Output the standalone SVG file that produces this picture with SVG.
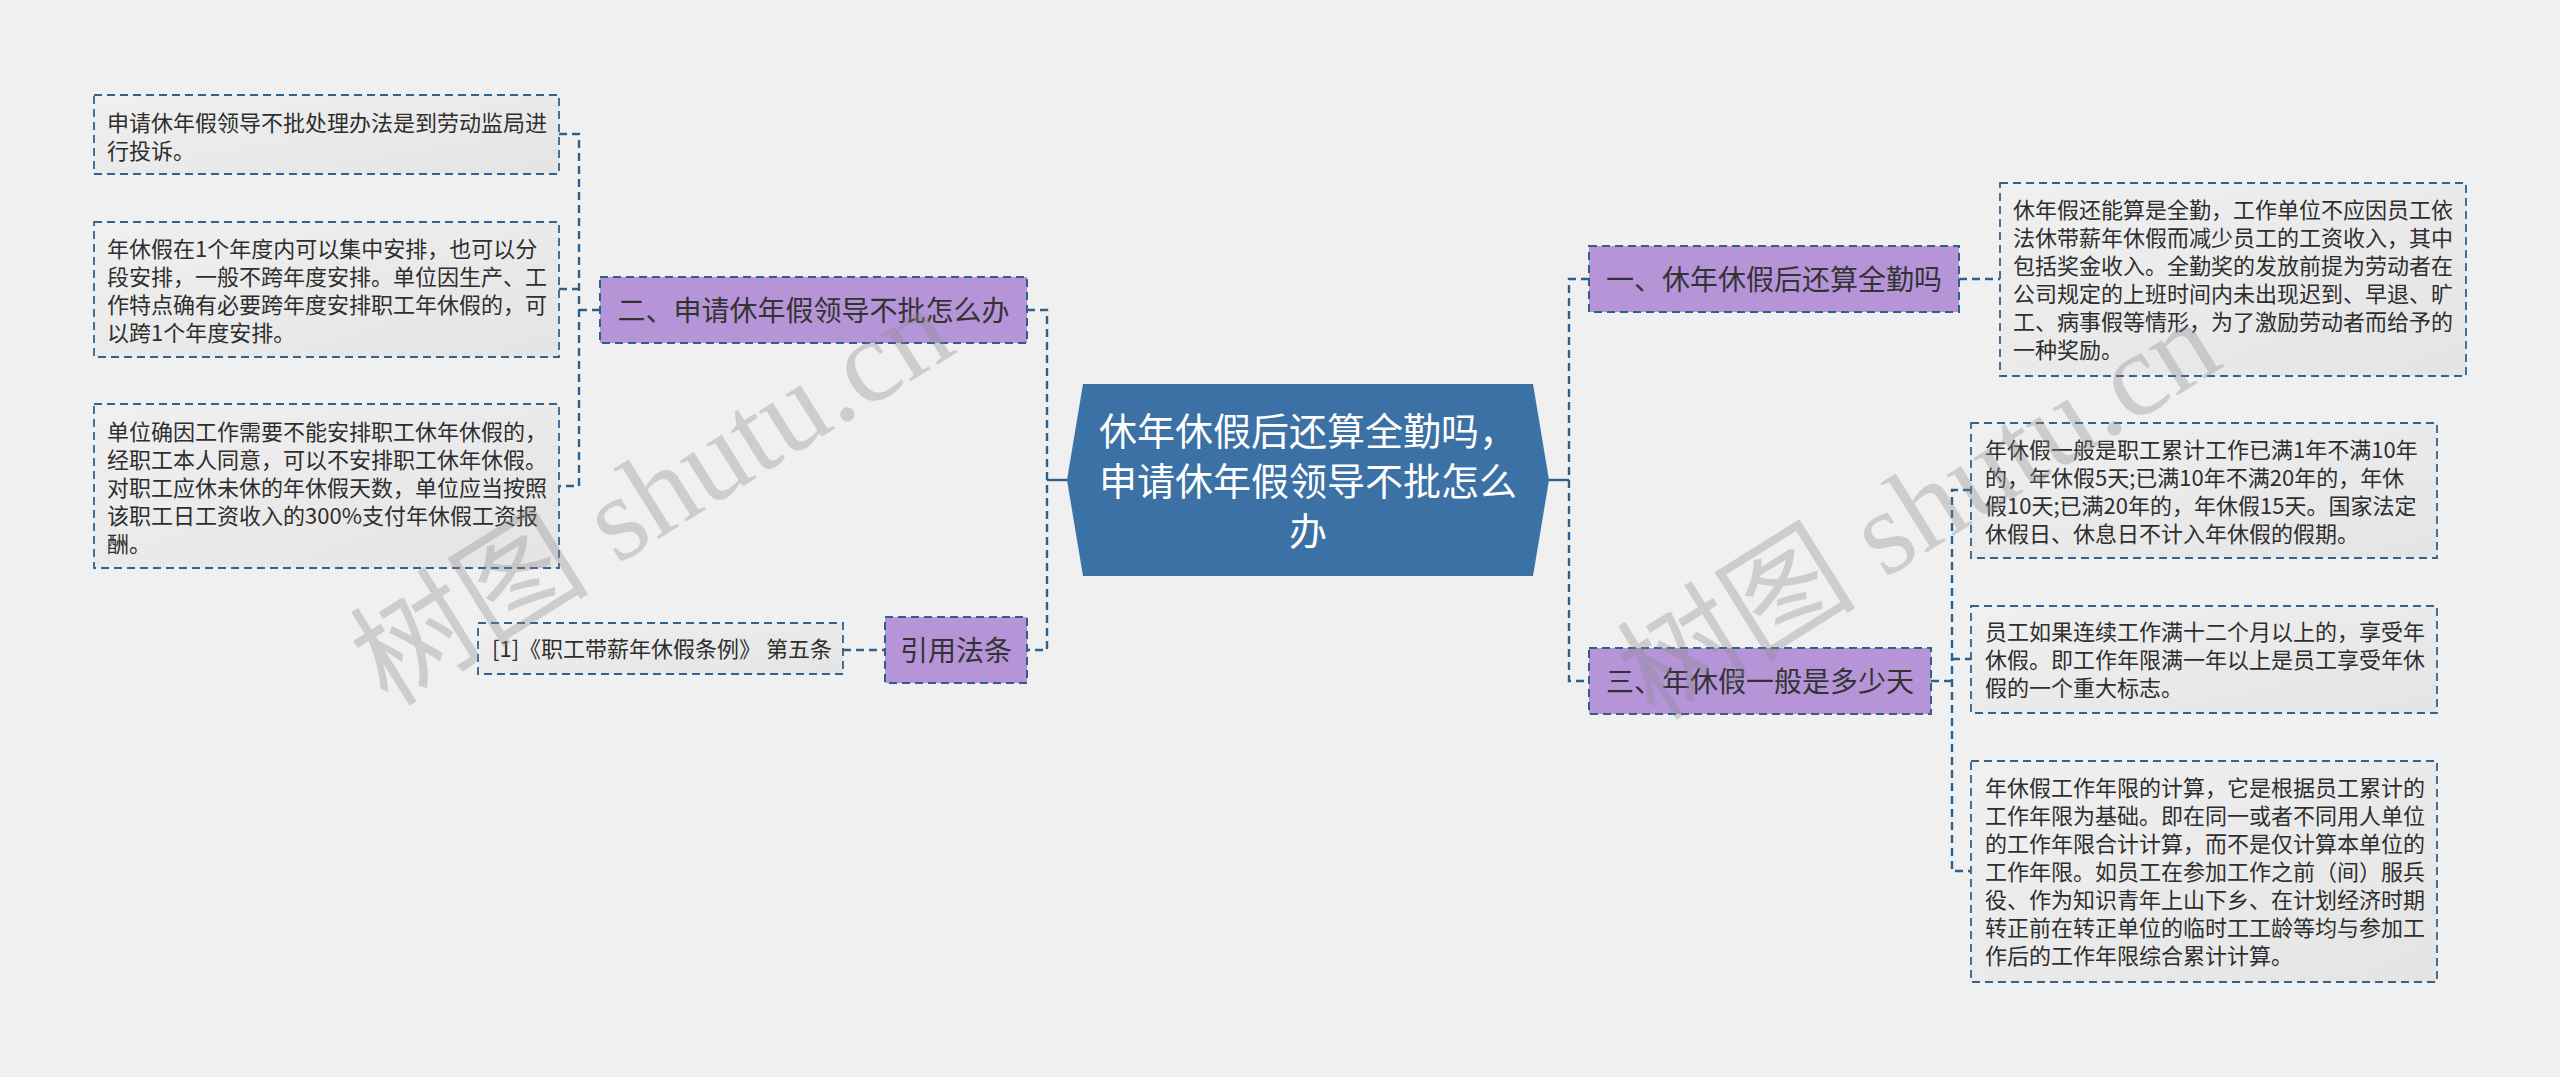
<svg xmlns="http://www.w3.org/2000/svg" width="2560" height="1077" viewBox="0 0 2560 1077">
<defs>
<linearGradient id="leafg" x1="0" y1="0" x2="1" y2="1">
<stop offset="0" stop-color="#f0f0f0"/>
<stop offset="1" stop-color="#e4e4e4"/>
</linearGradient>
<style>
.bg{fill:#f0f0f0}
.leaf{fill:url(#leafg);stroke:#35628c;stroke-width:1.8;stroke-dasharray:8 5}
.sub{fill:#b595d8;stroke:#2f5f8b;stroke-width:2;stroke-dasharray:8 5}
.root{fill:#3b71a4}
.lt{font-family:"Noto Sans CJK SC","Noto Sans",sans-serif;font-size:22px;fill:#2e2e2e}
.st{font-family:"Noto Sans CJK SC","Noto Sans",sans-serif;font-size:28px;fill:#333;text-anchor:middle}
.rt{font-family:"Noto Sans CJK SC","Noto Sans",sans-serif;font-size:38px;fill:#ffffff;text-anchor:middle}
.conn{fill:none;stroke:#2f5f8b;stroke-width:2.4;stroke-dasharray:8 5}
.solid{fill:none;stroke:#2f5f8b;stroke-width:2.4}
.wm{font-family:"Liberation Serif","Noto Sans CJK SC",serif;font-size:120px;fill:#888;opacity:0.33}
</style>
</defs>
<rect class="bg" x="0" y="0" width="2560" height="1077"/>

<g id="connectors">
<path class="conn" d="M559 134 H579 V486 H559"/>
<path class="conn" d="M559 289 H579"/>
<path class="conn" d="M579 310 H600"/>
<path class="conn" d="M1027 310 H1047 V650 H1027"/>
<path class="solid" d="M1047 480 H1067"/>
<path class="conn" d="M843 650 H885"/>
<path class="conn" d="M1589 279 H1569 V681 H1589"/>
<path class="solid" d="M1549 480 H1569"/>
<path class="conn" d="M1959 279 H2000"/>
<path class="conn" d="M1931 681 H1952"/>
<path class="conn" d="M1971 490 H1952 V871 H1971"/>
<path class="conn" d="M1952 659 H1971"/>
</g>

<g id="root">
<polygon class="root" points="1083,384 1533,384 1549,480 1533,576 1083,576 1067,480"/>
<text class="rt" x="1308" y="445">休年休假后还算全勤吗，</text>
<text class="rt" x="1308" y="495">申请休年假领导不批怎么</text>
<text class="rt" x="1308" y="545">办</text>
</g>

<g id="n-two">
<rect class="sub" x="600" y="277" width="427" height="66"/>
<text class="st" x="813.5" y="320.6">二、申请休年假领导不批怎么办</text>
</g>

<g id="n-cite">
<rect class="sub" x="885" y="617" width="142" height="66"/>
<text class="st" x="956" y="660.6">引用法条</text>
</g>

<g id="n-one">
<rect class="sub" x="1589" y="246" width="370" height="66"/>
<text class="st" x="1774" y="289.6">一、休年休假后还算全勤吗</text>
</g>

<g id="n-three">
<rect class="sub" x="1589" y="648" width="342" height="66"/>
<text class="st" x="1760" y="691.6">三、年休假一般是多少天</text>
</g>

<g id="leaf-two-1">
<rect class="leaf" x="94" y="95" width="465" height="79"/>
<text class="lt" x="107" y="131">申请休年假领导不批处理办法是到劳动监局进</text>
<text class="lt" x="107" y="159">行投诉。</text>
</g>

<g id="leaf-two-2">
<rect class="leaf" x="94" y="222" width="465" height="135"/>
<text class="lt" x="107" y="257">年休假在1个年度内可以集中安排，也可以分</text>
<text class="lt" x="107" y="285">段安排，一般不跨年度安排。单位因生产、工</text>
<text class="lt" x="107" y="313">作特点确有必要跨年度安排职工年休假的，可</text>
<text class="lt" x="107" y="341">以跨1个年度安排。</text>
</g>

<g id="leaf-two-3">
<rect class="leaf" x="94" y="404" width="465" height="164"/>
<text class="lt" x="107" y="440">单位确因工作需要不能安排职工休年休假的，</text>
<text class="lt" x="107" y="468">经职工本人同意，可以不安排职工休年休假。</text>
<text class="lt" x="107" y="496">对职工应休未休的年休假天数，单位应当按照</text>
<text class="lt" x="107" y="524">该职工日工资收入的300%支付年休假工资报</text>
<text class="lt" x="107" y="552">酬。</text>
</g>

<g id="leaf-cite">
<rect class="leaf" x="478" y="623" width="365" height="51"/>
<text class="lt" x="492" y="657">[1]《职工带薪年休假条例》 第五条</text>
</g>

<g id="leaf-one">
<rect class="leaf" x="2000" y="183" width="466" height="193"/>
<text class="lt" x="2013" y="218">休年假还能算是全勤，工作单位不应因员工依</text>
<text class="lt" x="2013" y="246">法休带薪年休假而减少员工的工资收入，其中</text>
<text class="lt" x="2013" y="274">包括奖金收入。全勤奖的发放前提为劳动者在</text>
<text class="lt" x="2013" y="302">公司规定的上班时间内未出现迟到、早退、旷</text>
<text class="lt" x="2013" y="330">工、病事假等情形，为了激励劳动者而给予的</text>
<text class="lt" x="2013" y="358">一种奖励。</text>
</g>

<g id="leaf-three-1">
<rect class="leaf" x="1971" y="423" width="466" height="135"/>
<text class="lt" x="1985" y="458">年休假一般是职工累计工作已满1年不满10年</text>
<text class="lt" x="1985" y="486">的，年休假5天;已满10年不满20年的，年休</text>
<text class="lt" x="1985" y="514">假10天;已满20年的，年休假15天。国家法定</text>
<text class="lt" x="1985" y="542">休假日、休息日不计入年休假的假期。</text>
</g>

<g id="leaf-three-2">
<rect class="leaf" x="1971" y="606" width="466" height="107"/>
<text class="lt" x="1985" y="640">员工如果连续工作满十二个月以上的，享受年</text>
<text class="lt" x="1985" y="668">休假。即工作年限满一年以上是员工享受年休</text>
<text class="lt" x="1985" y="696">假的一个重大标志。</text>
</g>

<g id="leaf-three-3">
<rect class="leaf" x="1971" y="761" width="466" height="221"/>
<text class="lt" x="1985" y="796">年休假工作年限的计算，它是根据员工累计的</text>
<text class="lt" x="1985" y="824">工作年限为基础。即在同一或者不同用人单位</text>
<text class="lt" x="1985" y="852">的工作年限合计计算，而不是仅计算本单位的</text>
<text class="lt" x="1985" y="880">工作年限。如员工在参加工作之前（间）服兵</text>
<text class="lt" x="1985" y="908">役、作为知识青年上山下乡、在计划经济时期</text>
<text class="lt" x="1985" y="936">转正前在转正单位的临时工工龄等均与参加工</text>
<text class="lt" x="1985" y="964">作后的工作年限综合累计计算。</text>
</g>

<g id="watermark">
<text class="wm" x="388" y="708" transform="rotate(-32 388 708)">树图 shutu.cn</text>
<text class="wm" x="1655" y="722" transform="rotate(-32 1655 722)">树图 shutu.cn</text>
</g>
</svg>
